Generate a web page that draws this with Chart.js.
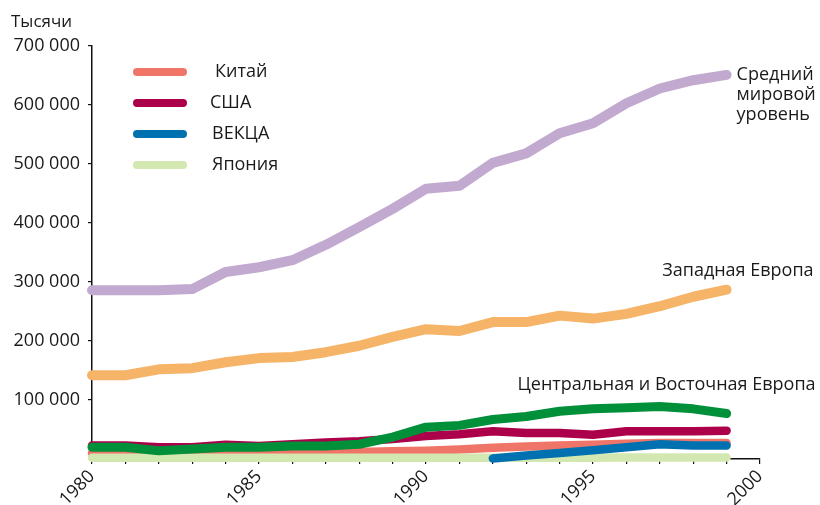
<!DOCTYPE html>
<html>
<head>
<meta charset="utf-8">
<script src="https://cdn.jsdelivr.net/npm/chart.js@4"></script>
<style>
  html, body { margin: 0; padding: 0; background: #fff; }
  #wrap { width: 820px; height: 505px; }
</style>
</head>
<body>
<div id="wrap"><canvas id="chart" width="820" height="505"></canvas></div>
<script>
var years = [1980, 1981, 1982, 1983, 1984, 1985, 1986, 1987, 1988, 1989,
             1990, 1991, 1992, 1993, 1994, 1995, 1996, 1997, 1998, 1999];

var world   = [286000, 286000, 286000, 288000, 317000, 325000, 337000, 363000, 393000, 424000,
               458000, 463000, 502000, 518000, 552000, 569000, 603000, 628000, 642000, 651000];
var western = [142000, 142000, 152000, 154000, 164000, 171000, 173000, 181000, 192000, 207000,
               220000, 217000, 232000, 232000, 243000, 238000, 246000, 259000, 275000, 287000];
var central = [20000, 20000, 14000, 17000, 20000, 20000, 22000, 22000, 25000, 37000,
               54000, 57000, 67000, 72000, 81000, 85000, 87000, 89000, 85000, 77000];
var usa     = [23000, 23000, 20000, 20000, 24000, 22000, 25000, 28000, 30000, 34000,
               39000, 42000, 47000, 44000, 44000, 41000, 47000, 47000, 47000, 48000];
var china   = [10000, 10000, 9000, 9000, 10000, 10000, 10000, 11000, 12000, 13000,
               14000, 16000, 19000, 21000, 23000, 24000, 26000, 27000, 27000, 27000];
var japan   = [2000, 2000, 2000, 2000, 2000, 2000, 2000, 2000, 2000, 2000,
               2000, 2000, 2000, 2000, 2000, 2000, 2500, 2500, 2500, 2500];
var ekca    = [null, null, null, null, null, null, null, null, null, null,
               null, null, 1000, 6000, 10000, 15000, 20000, 25000, 23000, 23000];

var yTicks = [0, 100000, 200000, 300000, 400000, 500000, 600000, 700000];
var xLabelYears = [1980, 1985, 1990, 1995, 2000];

var FONT = "'Open Sans', 'Noto Sans', sans-serif";

function pts(arr) {
    return years.map((y, i) => ({ x: y, y: arr[i] }));
}

function line(label, arr, color, width) {
    return {
        label: label,
        data: pts(arr),
        borderColor: color,
        backgroundColor: color,
        borderWidth: width,
        borderCapStyle: 'round',
        borderJoinStyle: 'round',
        pointRadius: 0,
        tension: 0,
        spanGaps: false,
        clip: false
    };
}

// first dataset is drawn on top
var datasets = [
    line('Центральная и Восточная Европа', central, '#00903a', 9),
    line('США', usa, '#ad004a', 8.5),
    line('ВЕКЦА', ekca, '#0071b0', 8.5),
    line('Япония', japan, '#d3e8b0', 8.5),
    line('Китай', china, '#ef7568', 8.5),
    line('Западная Европа', western, '#f6b468', 10),
    line('Средний мировой уровень', world, '#c2a9cf', 10)
];

var legendItems = [
    { text: 'Китай', color: '#ef7568', tx: 215 },
    { text: 'США', color: '#ad004a', tx: 210 },
    { text: 'ВЕКЦА', color: '#0071b0', tx: 212 },
    { text: 'Япония', color: '#d3e8b0', tx: 212 }
];

var labelsPlugin = {
    id: 'labels',
    afterDraw(chart) {
        var c = chart.ctx, xs = chart.scales.x, ys = chart.scales.y;
        c.save();
        c.fillStyle = '#1a1a1a';
        c.font = '17px ' + FONT;
        c.textBaseline = 'middle';
        c.textAlign = 'left';
        c.fillText('Тысячи', 11, 22);

        // legend
        c.font = '18px ' + FONT;
        legendItems.forEach((it, i) => {
            var y = 72 + i * 31;
            c.strokeStyle = it.color;
            c.lineWidth = 8;
            c.lineCap = 'round';
            c.beginPath();
            c.moveTo(137, y);
            c.lineTo(183, y);
            c.stroke();
            c.fillStyle = '#1a1a1a';
            c.fillText(it.text, it.tx, y);
        });

        // series labels
        var last = years.length - 1;
        var xl = xs.getPixelForValue(years[last]);
        c.fillText('Средний', xl + 10, ys.getPixelForValue(world[last]));
        c.fillText('мировой', xl + 10, ys.getPixelForValue(world[last]) + 20);
        c.fillText('уровень', xl + 10, ys.getPixelForValue(world[last]) + 40);
        c.textAlign = 'right';
        c.fillText('Западная Европа', xl + 87, ys.getPixelForValue(western[last]) - 19);
        c.fillText('Центральная и Восточная Европа', xl + 89, ys.getPixelForValue(central[last]) - 29);
        c.restore();
    }
};

var ctx = document.getElementById('chart').getContext('2d');
var chart = new Chart(ctx, {
    type: 'line',
    data: { datasets: datasets },
    options: {
        responsive: false,
        animation: false,
        layout: { padding: { left: 0, right: 60, top: 46, bottom: 0 } },
        plugins: {
            legend: { display: false },
            tooltip: { enabled: false }
        },
        scales: {
            x: {
                type: 'linear',
                min: 1980,
                max: 2000,
                border: { color: '#111', width: 1.5 },
                grid: { drawOnChartArea: false, tickLength: 5, color: '#111', lineWidth: 1.2 },
                afterBuildTicks: function (scale) {
                    var t = [];
                    for (var y = 1980; y <= 2000; y++) t.push({ value: y });
                    scale.ticks = t;
                },
                ticks: {
                    autoSkip: false,
                    minRotation: 45,
                    maxRotation: 45,
                    padding: 2,
                    color: '#1a1a1a',
                    font: { family: FONT, size: 18 },
                    callback: v => xLabelYears.includes(v) ? String(v) : ''
                },
                afterFit: function (scale) { scale.height = 46; }
            },
            y: {
                min: 0,
                max: 700000,
                border: { color: '#111', width: 1.5 },
                grid: { drawOnChartArea: false, tickLength: 4, color: '#111', lineWidth: 1.2 },
                afterBuildTicks: function (scale) {
                    scale.ticks = yTicks.map(v => ({ value: v }));
                },
                ticks: {
                    padding: 8,
                    color: '#1a1a1a',
                    font: { family: FONT, size: 18 },
                    callback: v => v === 0 ? '' : String(v).replace(/\B(?=(\d{3})+(?!\d))/g, ' ')
                },
                afterFit: function (scale) { scale.width = 92; }
            }
        }
    },
    plugins: [labelsPlugin]
});
</script>
</body>
</html>
